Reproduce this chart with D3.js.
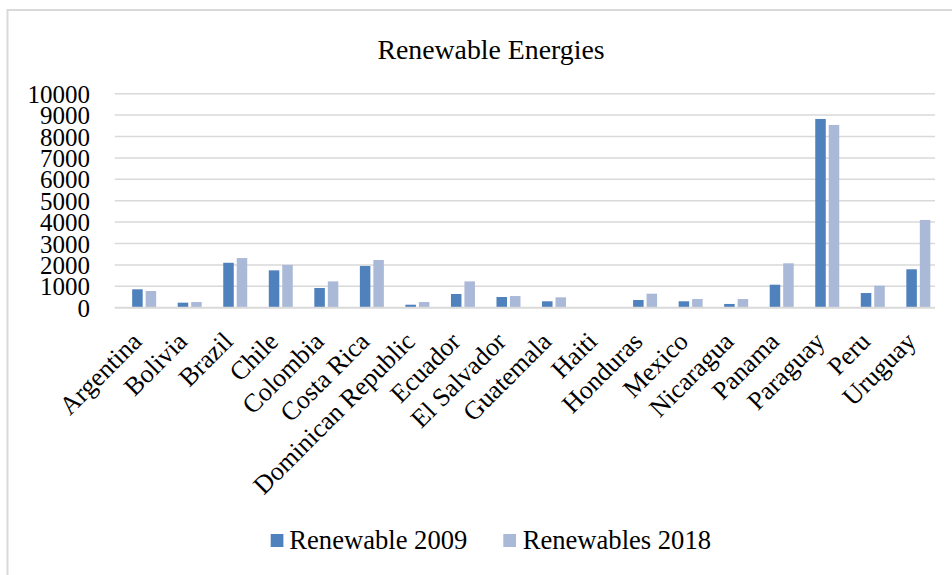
<!DOCTYPE html>
<html>
<head>
<meta charset="utf-8">
<script src="https://cdn.jsdelivr.net/npm/d3@7"></script>
<style>
  html, body { margin: 0; padding: 0; background: #fff; }
  svg { display: block; }
  text { font-family: "Liberation Serif", "Times New Roman", serif; fill: #000; }
</style>
</head>
<body>
<svg id="chart" width="952" height="575"></svg>
<script>
const categories = ["Argentina", "Bolivia", "Brazil", "Chile", "Colombia", "Costa Rica",
  "Dominican Republic", "Ecuador", "El Salvador", "Guatemala", "Haiti", "Honduras",
  "Mexico", "Nicaragua", "Panama", "Paraguay", "Peru", "Uruguay"];
const renewable2009 = [860, 235, 2100, 1745, 920, 1950, 140, 640, 500, 300, 0, 360, 300, 175, 1075, 8820, 685, 1795];
const renewables2018 = [780, 265, 2320, 2000, 1230, 2230, 265, 1230, 545, 485, 0, 655, 405, 405, 2075, 8540, 1030, 4100];
const seriesNames = ["Renewable 2009", "Renewables 2018"];
const seriesColors = ["#4F81BD", "#AAB9D8"];
const yTicks = [0, 1000, 2000, 3000, 4000, 5000, 6000, 7000, 8000, 9000, 10000];
const title = "Renewable Energies";

const svg = d3.select("#chart");

// chart border
svg.append("rect")
  .attr("x", 7.5).attr("y", 10).attr("width", 980).attr("height", 600)
  .attr("fill", "none").attr("stroke", "#D9D9D9").attr("stroke-width", 2);

// title
svg.append("text")
  .attr("x", 491).attr("y", 59)
  .attr("text-anchor", "middle")
  .style("font-size", "27.8px")
  .text(title);

const y = d3.scaleLinear().domain([0, 10000]).range([307.7, 93.7]);
const x = d3.scaleBand().domain(categories).range([121.4, 941.1]).padding(0);
const xSub = d3.scaleBand().domain(seriesNames).range([-12, 12]).paddingInner(0.22);

const gridLeft = 114.7, gridRight = 935;

// gridlines
svg.append("g").selectAll("line")
  .data(yTicks.filter(t => t > 0))
  .join("line")
  .attr("x1", gridLeft).attr("x2", gridRight)
  .attr("y1", d => y(d)).attr("y2", d => y(d))
  .attr("stroke", "#D9D9D9").attr("stroke-width", 1.5);

// y axis labels
const yAxis = d3.axisLeft(y).tickValues(yTicks).tickSize(0).tickPadding(0).tickFormat(d3.format("d"));
const gy = svg.append("g").attr("transform", "translate(90,0)").call(yAxis);
gy.select(".domain").remove();
gy.selectAll("text")
  .style("font-family", '"Liberation Serif", "Times New Roman", serif')
  .style("font-size", "25px")
  .attr("fill", "#000")
  .attr("x", 0)
  .attr("dy", "0.34em");

// bars
const data = categories.map((c, i) => ({ c, vals: [renewable2009[i], renewables2018[i]] }));
const groups = svg.append("g").selectAll("g")
  .data(data)
  .join("g")
  .attr("transform", d => `translate(${x(d.c) + x.bandwidth() / 2},0)`);
groups.selectAll("rect")
  .data(d => d.vals.map((v, j) => ({ v, s: seriesNames[j], j })))
  .join("rect")
  .attr("x", d => xSub(d.s))
  .attr("width", xSub.bandwidth())
  .attr("y", d => y(d.v))
  .attr("height", d => y(0) - y(d.v))
  .attr("fill", d => seriesColors[d.j]);

// baseline axis
svg.append("line")
  .attr("x1", gridLeft).attr("x2", gridRight)
  .attr("y1", y(0)).attr("y2", y(0))
  .attr("stroke", "#D9D9D9").attr("stroke-width", 2);

// x labels
svg.append("g").selectAll("text")
  .data(categories)
  .join("text")
  .attr("transform", d => `translate(${x(d) + x.bandwidth() / 2 - 1},343) rotate(-45)`)
  .attr("text-anchor", "end")
  .style("font-size", "26px")
  .text(d => d);

// legend
const legendPos = [{ sx: 270.7, tx: 289.3 }, { sx: 503.3, tx: 522.7 }];
const lg = svg.append("g").selectAll("g")
  .data(seriesNames)
  .join("g");
lg.append("rect")
  .attr("x", (d, i) => legendPos[i].sx).attr("y", 534)
  .attr("width", 12.7).attr("height", 13)
  .attr("fill", (d, i) => seriesColors[i]);
lg.append("text")
  .attr("x", (d, i) => legendPos[i].tx).attr("y", 549)
  .style("font-size", "26.6px")
  .text(d => d);
</script>
</body>
</html>
